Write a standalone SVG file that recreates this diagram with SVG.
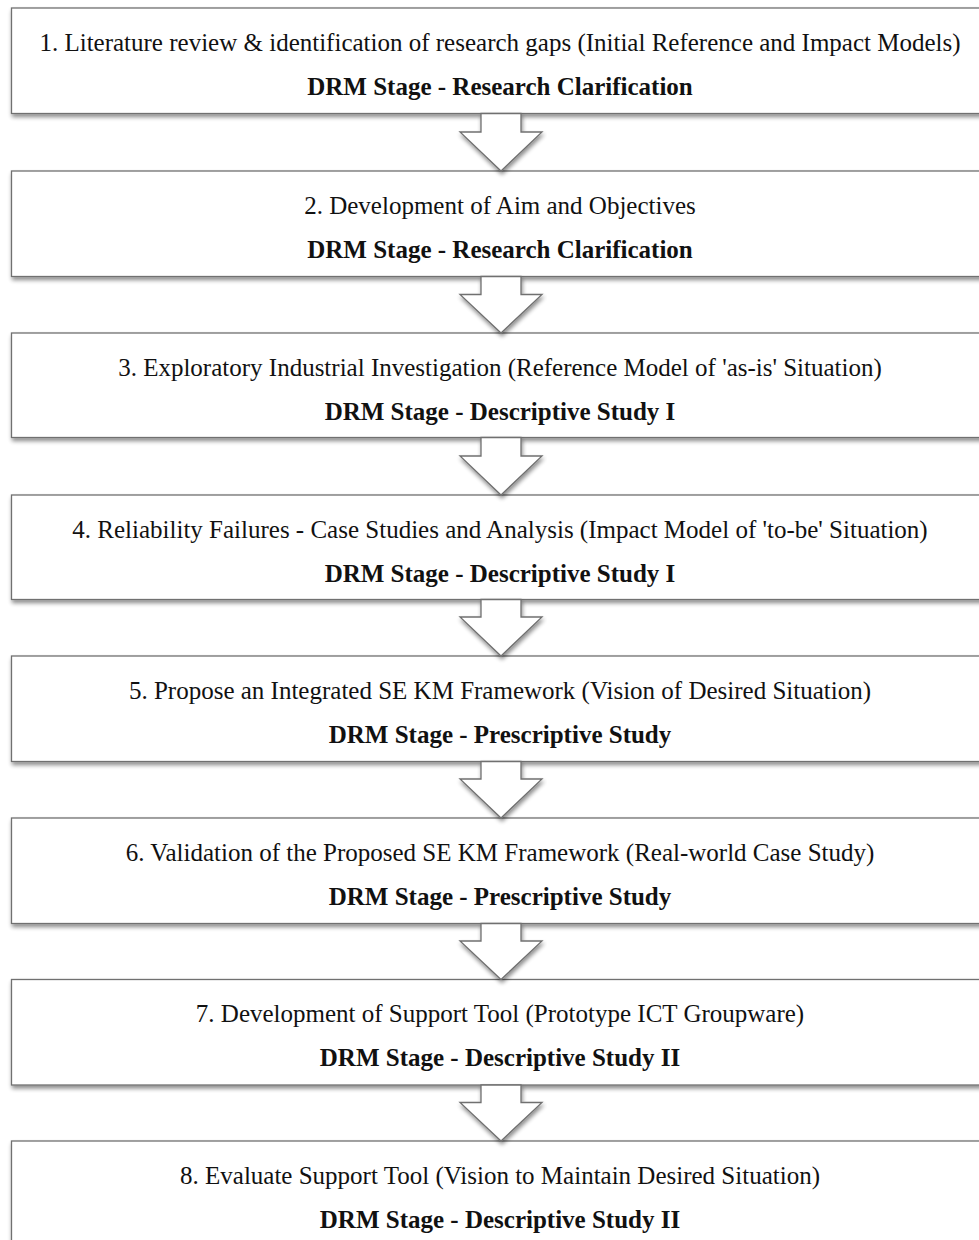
<svg xmlns="http://www.w3.org/2000/svg" width="979" height="1240" viewBox="0 0 979 1240">
  <defs>
    <filter id="shadow" x="-5%" y="-20%" width="110%" height="150%">
      <feGaussianBlur in="SourceAlpha" stdDeviation="2"/>
      <feOffset dx="1" dy="3" result="blur"/>
      <feComponentTransfer><feFuncA type="linear" slope="0.45"/></feComponentTransfer>
      <feMerge><feMergeNode/><feMergeNode in="SourceGraphic"/></feMerge>
    </filter>
    <style>
      .box { fill: #ffffff; stroke: #707070; stroke-width: 1.3; filter: url(#shadow); }
      .arrow { fill: #ffffff; stroke: #707070; stroke-width: 1.3; stroke-linejoin: miter; filter: url(#shadow); }
      .t1 { font-family: "Liberation Serif", "Times New Roman", serif; font-size: 25px; fill: #111111; text-anchor: middle; }
      .t2 { font-family: "Liberation Serif", "Times New Roman", serif; font-size: 25px; font-weight: bold; fill: #111111; text-anchor: middle; }
    </style>
  </defs>
  <rect width="979" height="1240" fill="#ffffff"/>

  <!-- process steps -->
  <g id="step1">
    <rect class="box" x="11.5" y="8" width="978" height="105.5"/>
    <text class="t1" x="500" y="50.5">1. Literature review &amp; identification of research gaps (Initial Reference and Impact Models)</text>
    <text class="t2" x="500" y="94.5">DRM Stage - Research Clarification</text>
  </g>
  <g id="step2">
    <rect class="box" x="11.5" y="171" width="978" height="105.5"/>
    <text class="t1" x="500" y="213.5">2. Development of Aim and Objectives</text>
    <text class="t2" x="500" y="257.5">DRM Stage - Research Clarification</text>
  </g>
  <g id="step3">
    <rect class="box" x="11.5" y="333" width="978" height="104.5"/>
    <text class="t1" x="500" y="375.5">3. Exploratory Industrial Investigation (Reference Model of 'as-is' Situation)</text>
    <text class="t2" x="500" y="419.5">DRM Stage - Descriptive Study I</text>
  </g>
  <g id="step4">
    <rect class="box" x="11.5" y="495" width="978" height="104.5"/>
    <text class="t1" x="500" y="537.5">4. Reliability Failures - Case Studies and Analysis (Impact Model of 'to-be' Situation)</text>
    <text class="t2" x="500" y="581.5">DRM Stage - Descriptive Study I</text>
  </g>
  <g id="step5">
    <rect class="box" x="11.5" y="656" width="978" height="105.5"/>
    <text class="t1" x="500" y="698.5">5. Propose an Integrated SE KM Framework (Vision of Desired Situation)</text>
    <text class="t2" x="500" y="742.5">DRM Stage - Prescriptive Study</text>
  </g>
  <g id="step6">
    <rect class="box" x="11.5" y="818" width="978" height="105.5"/>
    <text class="t1" x="500" y="860.5">6. Validation of the Proposed SE KM Framework (Real-world Case Study)</text>
    <text class="t2" x="500" y="904.5">DRM Stage - Prescriptive Study</text>
  </g>
  <g id="step7">
    <rect class="box" x="11.5" y="979.5" width="978" height="105.5"/>
    <text class="t1" x="500" y="1022">7. Development of Support Tool (Prototype ICT Groupware)</text>
    <text class="t2" x="500" y="1066">DRM Stage - Descriptive Study II</text>
  </g>
  <g id="step8">
    <rect class="box" x="11.5" y="1141" width="978" height="105.5"/>
    <text class="t1" x="500" y="1183.5">8. Evaluate Support Tool (Vision to Maintain Desired Situation)</text>
    <text class="t2" x="500" y="1227.5">DRM Stage - Descriptive Study II</text>
  </g>

  <!-- block arrows between steps -->
  <g id="connectors">
    <polygon class="arrow" points="481,113.5 481,132 460,132 501,171 542,132 521,132 521,113.5"/>
    <polygon class="arrow" points="481,276.5 481,294.5 460,294.5 501,333 542,294.5 521,294.5 521,276.5"/>
    <polygon class="arrow" points="481,437.5 481,456 460,456 501,495 542,456 521,456 521,437.5"/>
    <polygon class="arrow" points="481,599.5 481,617 460,617 501,656 542,617 521,617 521,599.5"/>
    <polygon class="arrow" points="481,761.5 481,779 460,779 501,818 542,779 521,779 521,761.5"/>
    <polygon class="arrow" points="481,923.5 481,941 460,941 501,979.5 542,941 521,941 521,923.5"/>
    <polygon class="arrow" points="481,1085 481,1102.5 460,1102.5 501,1141 542,1102.5 521,1102.5 521,1085"/>
  </g>
</svg>
